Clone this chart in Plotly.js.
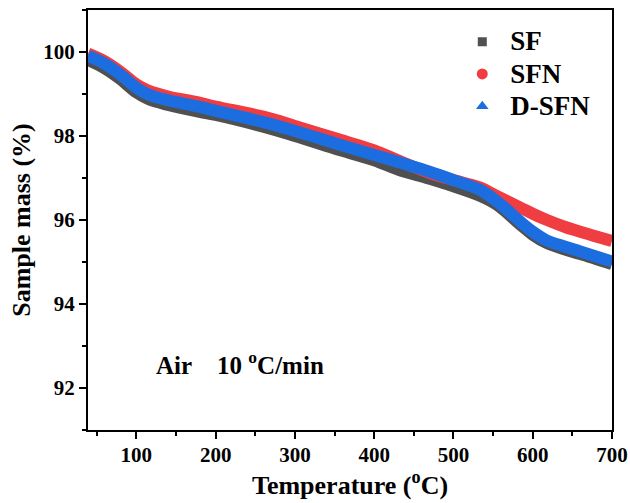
<!DOCTYPE html>
<html>
<head>
<meta charset="utf-8">
<script src="https://cdn.plot.ly/plotly-3.0.1.min.js"></script>
<style>html,body{margin:0;padding:0;background:#fff;}#chart{width:630px;height:503px;}</style>
</head>
<body>
<div id="chart"></div>
<script>
// Temperature (°C)
const temperature = [39, 60, 80, 100, 115, 140, 178, 200, 260, 300, 350, 400, 430, 470, 500, 534, 555, 585, 600, 618, 640, 660, 700];
// Sample mass (%)
const massSF    = [99.81, 99.61, 99.35, 99.04, 98.88, 98.74, 98.58, 98.50, 98.22, 98.00, 97.70, 97.42, 97.20, 96.98, 96.80, 96.57, 96.36, 95.88, 95.65, 95.45, 95.30, 95.19, 94.95];
const massSFN   = [99.96, 99.78, 99.53, 99.23, 99.08, 98.94, 98.80, 98.70, 98.46, 98.24, 97.95, 97.66, 97.42, 97.12, 96.95, 96.77, 96.57, 96.29, 96.15, 96.00, 95.84, 95.72, 95.50];
const massDSFN  = [99.91, 99.72, 99.46, 99.15, 98.99, 98.85, 98.70, 98.60, 98.33, 98.12, 97.83, 97.55, 97.38, 97.15, 96.95, 96.71, 96.44, 95.95, 95.72, 95.51, 95.37, 95.25, 95.01];
const seriesNames = ['SF', 'SFN', 'D-SFN'];
const annotationText = 'Air\u00A0\u00A0\u00A0 10 <sup>o</sup>C/min';

const colors = ['#505050', '#ef3d42', '#1c6ddf'];
const symbols = ['square', 'circle', 'triangle-up'];
const seriesData = [massSF, massSFN, massDSFN];
const fontFam = '"Times New Roman", "Liberation Serif", serif';

const traces = [];
seriesData.forEach((ys, i) => {
  traces.push({
    x: temperature, y: ys, type: 'scatter', mode: 'lines',
    line: {color: colors[i], width: 12, shape: 'spline', smoothing: 1},
    showlegend: false, hoverinfo: 'skip'
  });
});
seriesData.forEach((ys, i) => {
  traces.push({
    x: [null], y: [null], type: 'scatter', mode: 'markers',
    name: '<span style="font-size:27px">' + seriesNames[i] + '</span>',
    marker: {color: colors[i], symbol: symbols[i], size: i === 0 ? 9 : 11}
  });
});

const layout = {
  width: 630, height: 503,
  margin: {l: 88, r: 18, t: 10, b: 73},
  paper_bgcolor: '#fff', plot_bgcolor: '#fff',
  font: {family: fontFam, color: '#000'},
  showlegend: true,
  legend: {
    x: 0.699, y: 0.975, xanchor: 'left', yanchor: 'top',
    font: {family: fontFam, size: 22.5, weight: 'bold', color: '#000'},
    bgcolor: 'rgba(0,0,0,0)', itemwidth: 46, tracegroupgap: 0
  },
  xaxis: {
    range: [39, 700], showgrid: false, zeroline: false,
    showline: true, linecolor: '#000', linewidth: 2, mirror: true,
    ticks: 'outside', ticklen: 7, tickwidth: 2, tickcolor: '#000',
    dtick: 100, tick0: 0, ticklabelstandoff: -2,
    tickfont: {family: fontFam, size: 21, weight: 'bold', color: '#000'},
    minor: {dtick: 50, tick0: 0, ticks: 'outside', ticklen: 4, tickwidth: 2, tickcolor: '#000', showgrid: false},
    title: {text: 'Temperature (<sup>o</sup>C)', font: {family: fontFam, size: 26, weight: 'bold', color: '#000'}, standoff: 10}
  },
  yaxis: {
    range: [91, 101], showgrid: false, zeroline: false,
    showline: true, linecolor: '#000', linewidth: 2, mirror: true,
    ticks: 'outside', ticklen: 7, tickwidth: 2, tickcolor: '#000',
    dtick: 2, tick0: 0,
    tickfont: {family: fontFam, size: 21, weight: 'bold', color: '#000'},
    minor: {dtick: 1, tick0: 0, ticks: 'outside', ticklen: 4, tickwidth: 2, tickcolor: '#000', showgrid: false},
    title: {text: 'Sample mass (%)', font: {family: fontFam, size: 26, weight: 'bold', color: '#000'}, standoff: 5}
  },
  annotations: [{
    x: 122, y: 92.6, xref: 'x', yref: 'y', xanchor: 'left', yanchor: 'middle',
    text: annotationText, showarrow: false,
    font: {family: fontFam, size: 25, weight: 'bold', color: '#000'}
  }]
};

Plotly.newPlot('chart', traces, layout, {displayModeBar: false, staticPlot: true});
</script>
</body>
</html>
